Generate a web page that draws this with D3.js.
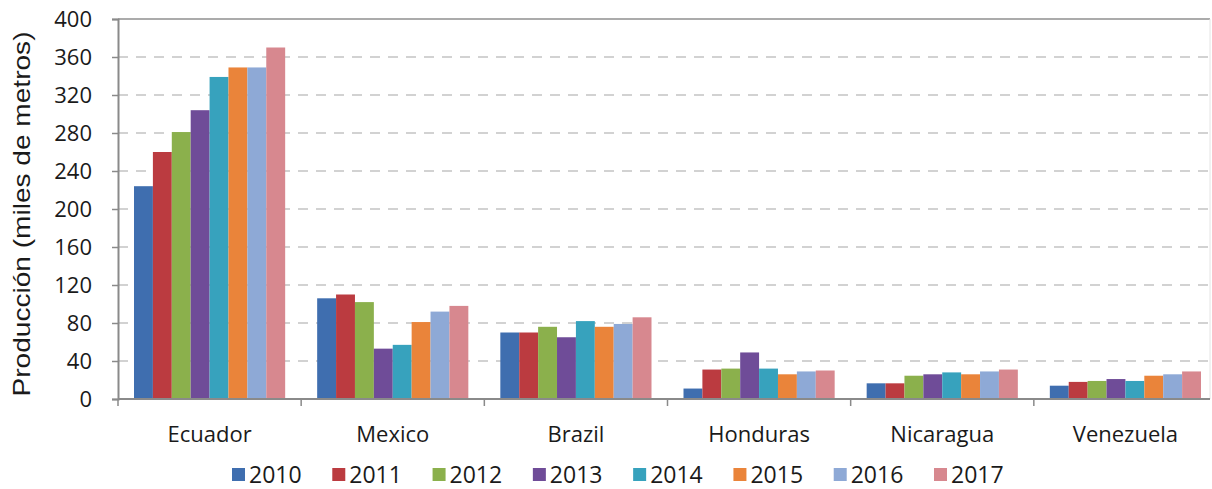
<!DOCTYPE html>
<html>
<head>
<meta charset="utf-8">
<script src="https://cdn.jsdelivr.net/npm/d3@7"></script>
<style>
  body { margin: 0; background: #fff; }
  text { font-family: "Open Sans", sans-serif; fill: #1a1a1a; }
</style>
</head>
<body>
<div id="chart"></div>
<script>
var countries = ["Ecuador", "Mexico", "Brazil", "Honduras", "Nicaragua", "Venezuela"];
var years = ["2010", "2011", "2012", "2013", "2014", "2015", "2016", "2017"];
var colors = ["#3f6eaf", "#bb3b40", "#8bb04c", "#6f4c98", "#37a2bd", "#ea843a", "#8ea9d6", "#d7888f"];

// one array per country, values for 2010..2017 (miles de metros)
var ecuador   = [224, 260, 281, 304, 339, 349, 349, 370];
var mexico    = [106, 110, 102, 53, 57, 81, 92, 98];
var brazil    = [70, 70, 76, 65, 82, 76, 79, 86];
var honduras  = [11, 31, 32, 49, 32, 26, 29, 30];
var nicaragua = [16.5, 16.5, 24.5, 26, 28, 26, 29, 31];
var venezuela = [14, 18, 19, 21, 19, 24.5, 26, 29];
var values = [ecuador, mexico, brazil, honduras, nicaragua, venezuela];

var yTicks = [0, 40, 80, 120, 160, 200, 240, 280, 320, 360, 400];

var W = 1212, H = 489;
var plotLeft = 118, plotRight = 1217, plotTop = 19, plotBottom = 399;

var svg = d3.select("#chart")
  .append("svg")
    .attr("width", W)
    .attr("height", H);

var x0 = d3.scaleBand()
    .domain(countries)
    .range([plotLeft, plotRight]);

var x1 = d3.scaleBand()
    .domain(years)
    .range([16, x0.bandwidth() - 16]);

var y = d3.scaleLinear()
    .domain([0, 400])
    .range([plotBottom, plotTop]);

// dashed gridlines
svg.append("g")
  .selectAll("line")
  .data(yTicks.filter(function(d) { return d > 0 && d < 400; }))
  .enter().append("line")
    .attr("x1", plotLeft)
    .attr("x2", 1210)
    .attr("y1", function(d) { return y(d); })
    .attr("y2", function(d) { return y(d); })
    .style("stroke", "#c4c4c4")
    .style("stroke-width", 1.5)
    .style("stroke-dasharray", "10,8");

// top border and right edge
svg.append("line")
    .attr("x1", plotLeft).attr("x2", 1210)
    .attr("y1", y(400)).attr("y2", y(400))
    .style("stroke", "#8f8f8f")
    .style("stroke-width", 1.5);
svg.append("line")
    .attr("x1", 1210).attr("x2", 1210)
    .attr("y1", y(400)).attr("y2", y(0))
    .style("stroke", "#e4e4e4")
    .style("stroke-width", 1);

// bars
var groups = svg.append("g")
  .selectAll("g")
  .data(countries)
  .enter().append("g")
    .attr("transform", function(d) { return "translate(" + x0(d) + ",0)"; });

groups.selectAll("rect")
  .data(function(d, i) {
    return years.map(function(yr, j) { return {year: yr, value: values[i][j], k: j}; });
  })
  .enter().append("rect")
    .attr("x", function(d) { return x1(d.year); })
    .attr("width", x1.bandwidth())
    .attr("y", function(d) { return y(d.value); })
    .attr("height", function(d) { return y(0) - y(d.value); })
    .style("fill", function(d) { return colors[d.k]; });

// y axis
var yAxis = svg.append("g")
    .attr("transform", "translate(" + plotLeft + ",0)")
    .call(d3.axisLeft(y).tickValues(yTicks).tickSize(6).tickPadding(20));
yAxis.select(".domain").style("stroke", "#8a8a8a").style("stroke-width", 2);
yAxis.selectAll(".tick line").style("stroke", "#8a8a8a").style("stroke-width", 1.5);
yAxis.selectAll(".tick text")
    .style("font-size", "22px")
    .style("font-family", "'Open Sans', sans-serif")
    .style("fill", "#1a1a1a");

// x axis: ticks sit on the category boundaries
var xAxis = svg.append("g")
    .attr("transform", "translate(0," + plotBottom + ")");
xAxis.append("line")
    .attr("x1", plotLeft).attr("x2", 1210)
    .style("stroke", "#8a8a8a")
    .style("stroke-width", 2);
xAxis.selectAll(".sep")
  .data(countries)
  .enter().append("line")
    .attr("class", "sep")
    .attr("x1", function(d) { return x0(d); })
    .attr("x2", function(d) { return x0(d); })
    .attr("y1", 0)
    .attr("y2", 7)
    .style("stroke", "#8a8a8a")
    .style("stroke-width", 1.5);
xAxis.selectAll(".lbl")
  .data(countries)
  .enter().append("text")
    .attr("class", "lbl")
    .attr("x", function(d) { return x0(d) + x0.bandwidth() / 2; })
    .attr("y", 43)
    .attr("text-anchor", "middle")
    .style("font-size", "22px")
    .text(function(d) { return d; });

// y axis title
svg.append("text")
    .attr("transform", "translate(30,214) rotate(-90)")
    .attr("text-anchor", "middle")
    .attr("textLength", 365)
    .attr("lengthAdjust", "spacingAndGlyphs")
    .style("font-family", "'Liberation Sans', Arial, sans-serif")
    .style("font-size", "24px")
    .text("Producción (miles de metros)");

// legend
var lx = d3.scalePoint()
    .domain(years)
    .range([232, 934]);

var legend = svg.append("g")
  .selectAll("g")
  .data(years)
  .enter().append("g")
    .attr("transform", function(d) { return "translate(" + lx(d) + ",475)"; });

legend.append("rect")
    .attr("x", 0)
    .attr("y", -7)
    .attr("width", 13)
    .attr("height", 13)
    .style("fill", function(d, i) { return colors[i]; });

legend.append("text")
    .attr("x", 17)
    .attr("y", 0)
    .attr("dy", "0.35em")
    .style("font-size", "23px")
    .text(function(d) { return d; });
</script>
</body>
</html>
